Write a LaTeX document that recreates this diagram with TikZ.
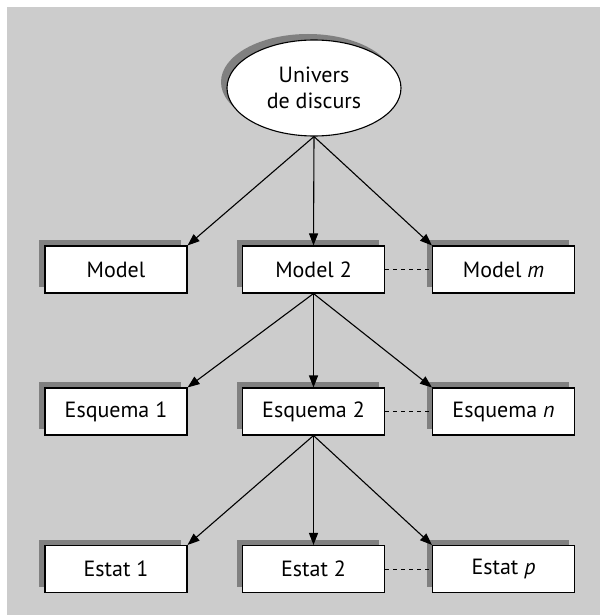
\documentclass[tikz,border=0pt]{standalone}
\usepackage{fontspec}
\setmainfont{PT Sans}
\usetikzlibrary{arrows.meta,shapes.geometric,shadows}
\definecolor{panelgray}{RGB}{204,204,204}
\definecolor{shadowgray}{RGB}{128,128,128}
\begin{document}
\begin{tikzpicture}[x=1pt,y=-1pt,
  every node/.style={font=\fontsize{22}{26}\selectfont},
  boxshadow/.style={drop shadow={shadow xshift=-6pt,shadow yshift=6pt,opacity=1,fill=shadowgray}},
  levelbox/.style={draw=black,line width=1.1pt,fill=white,minimum width=142pt,minimum height=47pt,inner sep=0pt,boxshadow},
  rootnode/.style={ellipse,draw=black,line width=1.1pt,fill=white,minimum width=174pt,minimum height=96pt,inner sep=0pt,align=center,boxshadow},
  link/.style={line width=1.1pt,-{Triangle[length=12pt,width=9pt]}},
  sibling/.style={line width=1pt,dash pattern=on 4pt off 4pt}]
  % frame and grey panel
  \useasboundingbox (0,0) rectangle (602,615);
  \fill[white] (0,0) rectangle (602,615);
  \fill[panelgray] (7,7) rectangle (600,615);

  % root
  \node[rootnode] (univ) at (314,88) {Univers\\de discurs};

  % models
  \node[levelbox] (m1) at (116,269.5) {Model};
  \node[levelbox] (m2) at (313.5,269.5) {Model 2};
  \node[levelbox] (mm) at (503.5,269.5) {Model \textit{m}};

  % schemas
  \node[levelbox] (e1) at (116,411.5) {Esquema 1};
  \node[levelbox] (e2) at (313.5,411.5) {Esquema 2};
  \node[levelbox] (en) at (503.5,411.5) {Esquema \textit{n}};

  % states
  \node[levelbox] (s1) at (116,569) {Estat 1};
  \node[levelbox] (s2) at (313.5,569) {Estat 2};
  \node[levelbox] (sp) at (503.5,569) {Estat \textit{p}};

  % hierarchy
  \draw[link] (univ.south) -- (m1.north east);
  \draw[link] (univ.south) -- (m2.north);
  \draw[link] (univ.south) -- (mm.north west);

  \draw[link] (m2.south) -- (e1.north east);
  \draw[link] (m2.south) -- (e2.north);
  \draw[link] (m2.south) -- (en.north west);

  \draw[link] (e2.south) -- (s1.north east);
  \draw[link] (e2.south) -- (s2.north);
  \draw[link] (e2.south) -- (sp.north west);

  % siblings
  \draw[sibling] (m2.east) -- (mm.west);
  \draw[sibling] (e2.east) -- (en.west);
  \draw[sibling] (s2.east) -- (sp.west);
\end{tikzpicture}
\end{document}
